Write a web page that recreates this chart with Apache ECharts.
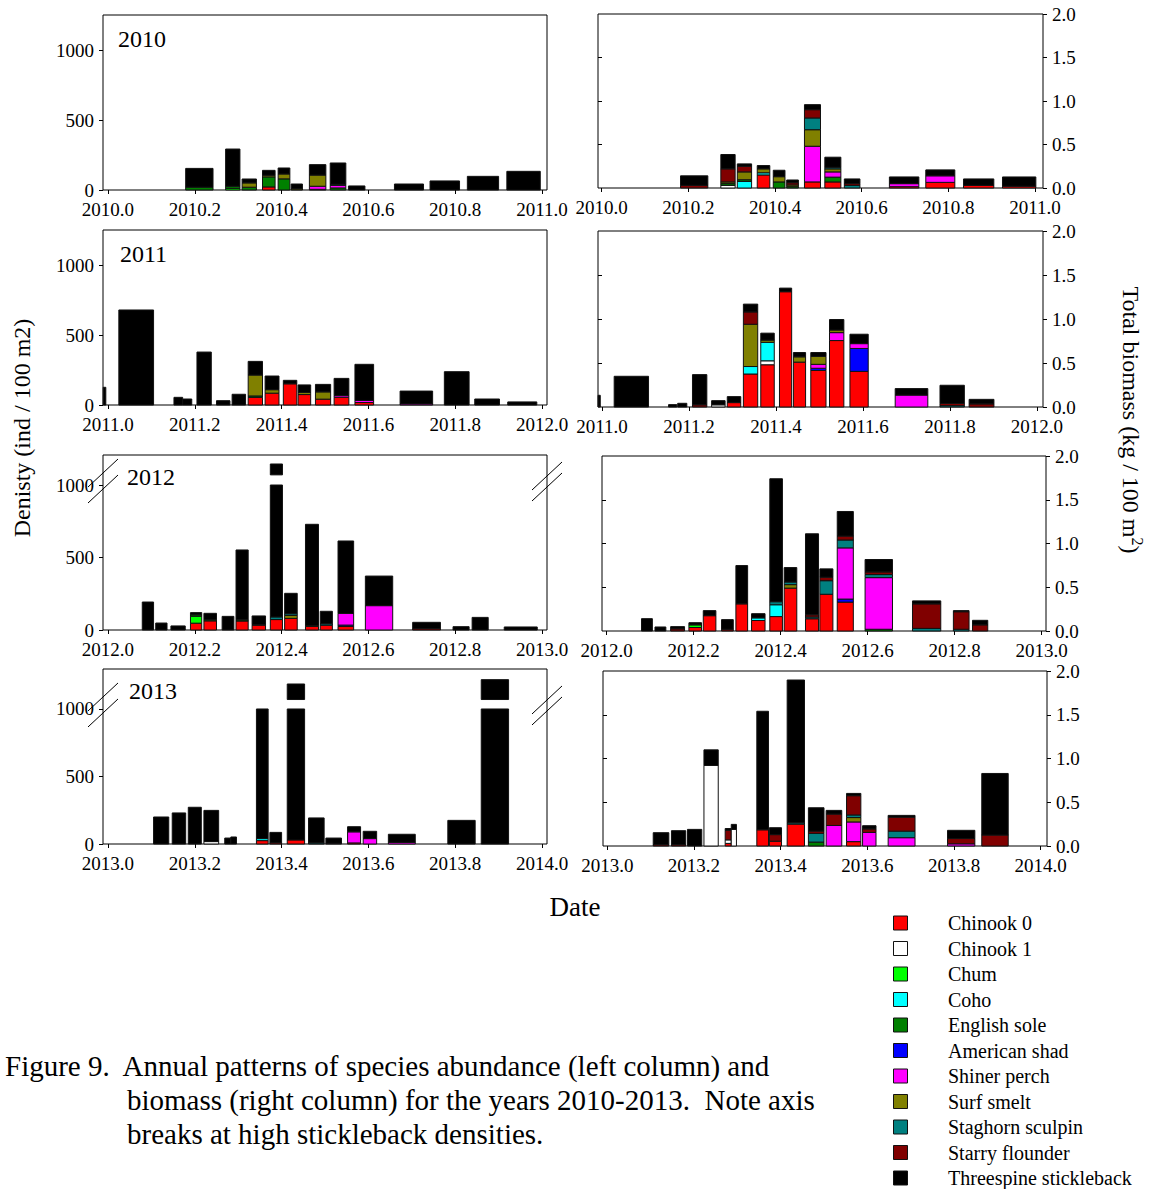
<!DOCTYPE html>
<html>
<head>
<meta charset="utf-8">
<script src="https://cdn.jsdelivr.net/npm/echarts@6/dist/echarts.min.js"></script>
<style>
html,body{margin:0;padding:0;background:#fff}
#chart{width:1156px;height:1189px}
</style>
</head>
<body>
<div id="chart"></div>
<script>
// ---------------- DATA ----------------
const SPECIES = ['Chinook 0','Chinook 1','Chum','Coho','English sole','American shad','Shiner perch','Surf smelt','Staghorn sculpin','Starry flounder','Threespine stickleback'];
const KEYS = ['c0','c1','chum','coho','eng','shad','shin','smelt','sculp','starry','stick'];
const YEARS = [2010, 2011, 2012, 2013];
const X_TICK_STEPS = [0, 0.2, 0.4, 0.6, 0.8, 1.0];
const DENSITY_TICKS = [0, 500, 1000];
const BIOMASS_TICKS = [0, 0.5, 1.0, 1.5, 2.0];
// density axis of 2012 and 2013 is broken: values between from and to are cut out
const DENSITY_BREAK = {from: 1000, to: 2000};

// each sample: [start date, end date, {species: value}]
const density2010 = [
  [2010.179, 2010.242, {eng:20, stick:135}],
  [2010.271, 2010.304, {chum:12, eng:15, stick:267}],
  [2010.309, 2010.342, {eng:20, smelt:31, stick:28}],
  [2010.356, 2010.385, {c0:22, eng:72, smelt:12, stick:35}],
  [2010.392, 2010.419, {eng:80, smelt:35, stick:43}],
  [2010.422, 2010.448, {smelt:8, stick:35}],
  [2010.464, 2010.502, {c0:5, shin:22, smelt:80, stick:75}],
  [2010.512, 2010.548, {eng:15, shin:18, sculp:8, stick:153}],
  [2010.554, 2010.592, {stick:29}],
  [2010.660, 2010.727, {stick:43}],
  [2010.742, 2010.810, {stick:65}],
  [2010.828, 2010.900, {stick:98}],
  [2010.919, 2010.996, {stick:134}]
];
const biomass2010 = [
  [2010.182, 2010.245, {starry:0.03, stick:0.11}],
  [2010.275, 2010.308, {c1:0.03, eng:0.02, smelt:0.02, starry:0.15, stick:0.165}],
  [2010.313, 2010.346, {coho:0.075, eng:0.02, smelt:0.09, starry:0.065, stick:0.027}],
  [2010.359, 2010.388, {c0:0.15, coho:0.025, smelt:0.045, stick:0.038}],
  [2010.396, 2010.423, {eng:0.07, smelt:0.06, stick:0.074}],
  [2010.427, 2010.454, {eng:0.015, smelt:0.02, starry:0.025, stick:0.032}],
  [2010.468, 2010.505, {c0:0.07, shin:0.41, smelt:0.19, sculp:0.135, starry:0.095, stick:0.058}],
  [2010.515, 2010.552, {c0:0.07, eng:0.055, shin:0.06, smelt:0.035, sculp:0.018, stick:0.116}],
  [2010.560, 2010.596, {sculp:0.03, starry:0.02, stick:0.054}],
  [2010.664, 2010.732, {c0:0.015, shin:0.035, stick:0.077}],
  [2010.748, 2010.815, {c0:0.065, shin:0.075, stick:0.068}],
  [2010.835, 2010.905, {c0:0.03, stick:0.074}],
  [2010.925, 2011.002, {c0:0.02, stick:0.107}]
];
const density2011 = [
  [2010.989, 2010.995, {stick:127}],
  [2011.025, 2011.105, {stick:682}],
  [2011.152, 2011.172, {stick:55}],
  [2011.172, 2011.193, {stick:43}],
  [2011.205, 2011.238, {stick:380}],
  [2011.250, 2011.281, {stick:31}],
  [2011.286, 2011.317, {stick:77}],
  [2011.323, 2011.356, {c0:55, eng:10, smelt:150, stick:98}],
  [2011.362, 2011.394, {c0:85, smelt:25, stick:98}],
  [2011.404, 2011.435, {c0:152, stick:25}],
  [2011.438, 2011.467, {c0:75, smelt:15, stick:54}],
  [2011.478, 2011.513, {c0:42, smelt:52, stick:54}],
  [2011.521, 2011.555, {c0:55, shin:12, stick:124}],
  [2011.569, 2011.612, {c0:18, shin:15, stick:259}],
  [2011.673, 2011.748, {shin:8, stick:92}],
  [2011.775, 2011.832, {stick:239}],
  [2011.845, 2011.902, {stick:43}],
  [2011.921, 2011.988, {stick:22}]
];
const biomass2011 = [
  [2010.991, 2010.996, {starry:0.01, stick:0.123}],
  [2011.028, 2011.107, {stick:0.349}],
  [2011.153, 2011.172, {stick:0.027}],
  [2011.174, 2011.195, {stick:0.042}],
  [2011.208, 2011.241, {starry:0.025, stick:0.343}],
  [2011.252, 2011.283, {c1:0.025, stick:0.047}],
  [2011.288, 2011.319, {c0:0.05, stick:0.068}],
  [2011.325, 2011.358, {c0:0.375, coho:0.085, smelt:0.48, starry:0.14, stick:0.089}],
  [2011.365, 2011.396, {c0:0.48, c1:0.045, coho:0.21, smelt:0.025, stick:0.079}],
  [2011.408, 2011.436, {c0:1.31, stick:0.041}],
  [2011.440, 2011.468, {c0:0.51, smelt:0.06, stick:0.049}],
  [2011.480, 2011.515, {c0:0.415, shad:0.025, shin:0.045, smelt:0.09, stick:0.044}],
  [2011.523, 2011.556, {c0:0.755, shin:0.09, smelt:0.03, stick:0.119}],
  [2011.570, 2011.612, {c0:0.405, shad:0.26, shin:0.055, stick:0.107}],
  [2011.674, 2011.749, {shin:0.135, stick:0.074}],
  [2011.777, 2011.833, {sculp:0.015, starry:0.025, stick:0.207}],
  [2011.844, 2011.901, {starry:0.035, stick:0.052}]
];
const density2012 = [
  [2012.079, 2012.105, {stick:193}],
  [2012.110, 2012.136, {stick:48}],
  [2012.145, 2012.178, {stick:28}],
  [2012.190, 2012.216, {c0:47, chum:48, eng:10, stick:15}],
  [2012.221, 2012.250, {c0:63, eng:8, stick:44}],
  [2012.263, 2012.290, {stick:94}],
  [2012.295, 2012.323, {c0:62, eng:8, stick:482}],
  [2012.332, 2012.363, {c0:33, starry:5, stick:59}],
  [2012.374, 2012.402, {c0:72, sculp:18, stick:1985}],
  [2012.407, 2012.436, {c0:80, smelt:20, sculp:12, stick:141}],
  [2012.455, 2012.485, {c0:25, smelt:5, stick:699}],
  [2012.489, 2012.517, {c0:33, sculp:10, stick:86}],
  [2012.530, 2012.566, {c0:24, shad:10, shin:80, stick:500}],
  [2012.593, 2012.656, {shin:168, stick:204}],
  [2012.702, 2012.766, {starry:10, stick:43}],
  [2012.795, 2012.832, {stick:23}],
  [2012.839, 2012.876, {stick:87}],
  [2012.913, 2012.989, {stick:21}]
];
const biomass2012 = [
  [2012.080, 2012.105, {stick:0.141}],
  [2012.111, 2012.136, {stick:0.046}],
  [2012.147, 2012.179, {starry:0.025, stick:0.025}],
  [2012.189, 2012.218, {c0:0.04, chum:0.03, stick:0.025}],
  [2012.222, 2012.251, {c0:0.175, stick:0.058}],
  [2012.264, 2012.291, {starry:0.02, stick:0.11}],
  [2012.297, 2012.324, {c0:0.31, stick:0.438}],
  [2012.333, 2012.364, {c0:0.12, coho:0.03, stick:0.048}],
  [2012.375, 2012.404, {c0:0.165, coho:0.135, sculp:0.035, stick:1.405}],
  [2012.408, 2012.437, {c0:0.49, smelt:0.04, sculp:0.03, stick:0.165}],
  [2012.457, 2012.487, {c0:0.14, sculp:0.02, starry:0.025, stick:0.926}],
  [2012.490, 2012.520, {c0:0.42, sculp:0.155, starry:0.04, stick:0.095}],
  [2012.530, 2012.567, {c0:0.33, shad:0.035, shin:0.585, sculp:0.09, starry:0.045, stick:0.281}],
  [2012.594, 2012.657, {eng:0.02, shin:0.59, sculp:0.035, starry:0.03, stick:0.142}],
  [2012.703, 2012.768, {sculp:0.03, starry:0.28, stick:0.034}],
  [2012.797, 2012.833, {sculp:0.02, starry:0.2, stick:0.013}],
  [2012.841, 2012.876, {starry:0.07, stick:0.052}]
];
const density2013 = [
  [2013.105, 2013.140, {stick:200}],
  [2013.148, 2013.179, {stick:230}],
  [2013.185, 2013.215, {stick:272}],
  [2013.221, 2013.255, {c1:18, stick:231}],
  [2013.269, 2013.283, {stick:44}],
  [2013.283, 2013.296, {stick:52}],
  [2013.342, 2013.369, {c0:25, coho:15, stick:960}],
  [2013.373, 2013.400, {c0:8, stick:78}],
  [2013.413, 2013.453, {c0:30, stick:2085}],
  [2013.462, 2013.498, {sculp:8, stick:185}],
  [2013.502, 2013.538, {shin:5, stick:39}],
  [2013.552, 2013.582, {c0:8, shin:82, stick:38}],
  [2013.588, 2013.619, {shin:40, stick:54}],
  [2013.646, 2013.708, {shin:12, stick:60}],
  [2013.783, 2013.846, {stick:175}],
  [2013.860, 2013.923, {stick:2147}]
];
const biomass2013 = [
  [2013.106, 2013.142, {starry:0.015, stick:0.137}],
  [2013.148, 2013.181, {starry:0.015, stick:0.16}],
  [2013.185, 2013.218, {stick:0.19}],
  [2013.223, 2013.256, {c1:0.92, stick:0.179}],
  [2013.272, 2013.286, {c0:0.03, c1:0.04, starry:0.11, stick:0.02}],
  [2013.286, 2013.298, {c1:0.19, stick:0.057}],
  [2013.345, 2013.372, {c0:0.185, stick:1.355}],
  [2013.374, 2013.402, {c0:0.055, starry:0.075, stick:0.079}],
  [2013.415, 2013.455, {c0:0.25, sculp:0.015, stick:1.632}],
  [2013.464, 2013.500, {eng:0.045, sculp:0.1, starry:0.025, stick:0.267}],
  [2013.505, 2013.541, {shin:0.235, starry:0.13, stick:0.042}],
  [2013.552, 2013.585, {c0:0.05, shin:0.225, smelt:0.05, sculp:0.03, starry:0.22, stick:0.026}],
  [2013.589, 2013.620, {shin:0.155, starry:0.04, stick:0.037}],
  [2013.648, 2013.710, {shin:0.095, sculp:0.075, starry:0.16, stick:0.02}],
  [2013.785, 2013.848, {shin:0.025, starry:0.06, stick:0.094}],
  [2013.864, 2013.925, {starry:0.125, stick:0.704}]
];

// ---------------- STYLE / LAYOUT ----------------
const COLORS = ['#ff0000','#ffffff','#00ff00','#00ffff','#008000','#0000ff','#ff00ff','#808000','#008080','#800000','#000000'];
const FONT = 'Liberation Serif';
const BREAK_GAP = 70; // visual gap (axis units) drawn at the break

const PANELS = [
  {kind:'d', year:2010, rows:density2010, grid:{left:103, top:15,  width:444, height:175}, pad:[0.0115,0.0115], yMax:1256, brk:false, lab:[118,39]},
  {kind:'b', year:2010, rows:biomass2010, grid:{left:598, top:14,  width:445, height:174}, pad:[0.0085,0.0185], yMax:2},
  {kind:'d', year:2011, rows:density2011, grid:{left:103, top:230, width:444, height:175}, pad:[0.0115,0.0115], yMax:1256, brk:false, lab:[120,254]},
  {kind:'b', year:2011, rows:biomass2011, grid:{left:598, top:231, width:445, height:176}, pad:[0.0092,0.0138], yMax:2},
  {kind:'d', year:2012, rows:density2012, grid:{left:103, top:455, width:444, height:175}, pad:[0.0115,0.0115], yMax:1207, brk:true, lab:[127,477]},
  {kind:'b', year:2012, rows:biomass2012, grid:{left:602, top:456, width:444, height:175}, pad:[0.0108,0.0099], yMax:2},
  {kind:'d', year:2013, rows:density2013, grid:{left:103, top:669, width:444, height:175}, pad:[0.0115,0.0115], yMax:1296, brk:true, lab:[129,691]},
  {kind:'b', year:2013, rows:biomass2013, grid:{left:603, top:671, width:444, height:175}, pad:[0.0099,0.0145], yMax:2}
];

function toAxis(v) {
  const b = DENSITY_BREAK;
  if (v <= b.from) return v;
  if (v >= b.to) return v - b.to + b.from + BREAK_GAP;
  return b.from + BREAK_GAP;
}
function segments(bot, top, brk) {
  if (!brk || top <= DENSITY_BREAK.from) return [[bot, top]];
  if (bot >= DENSITY_BREAK.to) return [[toAxis(bot), toAxis(top)]];
  const out = [];
  if (bot < DENSITY_BREAK.from) out.push([bot, DENSITY_BREAK.from]);
  if (top > DENSITY_BREAK.to) out.push([DENSITY_BREAK.from + BREAK_GAP, toAxis(top)]);
  return out;
}
function makeRender(brk) {
  return function (params, api) {
    const x0 = api.value(0), x1 = api.value(1);
    let cum = 0;
    const children = [];
    for (let k = 0; k < KEYS.length; k++) {
      const v = api.value(2 + k);
      if (!v) continue;
      const b = cum, t = cum + v;
      cum = t;
      segments(b, t, brk).forEach(function (s) {
        const p0 = api.coord([x0, s[0]]);
        const p1 = api.coord([x1, s[1]]);
        children.push({
          type: 'rect',
          shape: {x: p0[0], y: p1[1], width: p1[0] - p0[0], height: p0[1] - p1[1]},
          style: {fill: COLORS[k], stroke: '#111', lineWidth: 1}
        });
      });
    }
    return {type: 'group', children: children};
  };
}

const grids = [], xAxes = [], yAxes = [], series = [], graphics = [];
const axisTextStyle = {color: '#000', fontFamily: FONT, fontSize: 19};

PANELS.forEach(function (p, i) {
  grids.push(Object.assign({show: true, borderColor: '#000', borderWidth: 1, backgroundColor: 'transparent', containLabel: false, outerBoundsMode: 'none'}, p.grid));
  const xt = X_TICK_STEPS.map(function (s) { return Math.round((p.year + s) * 10) / 10; });
  xAxes.push({
    type: 'value', gridIndex: i, min: p.year - p.pad[0], max: p.year + 1 + p.pad[1],
    axisLine: {show: false}, splitLine: {show: false},
    axisTick: {show: true, customValues: xt, length: 4, lineStyle: {color: '#000'}},
    axisLabel: Object.assign({customValues: xt, margin: 10, formatter: function (v) { return v.toFixed(1); }}, axisTextStyle)
  });
  const yi = yAxes.length;
  if (p.kind === 'd') {
    yAxes.push({
      type: 'value', gridIndex: i, min: 0, max: p.yMax, position: 'left',
      axisLine: {show: false}, splitLine: {show: false},
      axisTick: {show: true, customValues: DENSITY_TICKS, length: 4, lineStyle: {color: '#000'}},
      axisLabel: Object.assign({customValues: DENSITY_TICKS, margin: 9, formatter: function (v) { return String(Math.round(v)); }}, axisTextStyle)
    });
  } else {
    yAxes.push({
      type: 'value', gridIndex: i, min: 0, max: p.yMax, position: 'right',
      axisLine: {show: false}, splitLine: {show: false},
      axisTick: {show: true, customValues: BIOMASS_TICKS, length: 4, lineStyle: {color: '#000'}},
      axisLabel: Object.assign({customValues: BIOMASS_TICKS, margin: 9, formatter: function (v) { return v.toFixed(1); }}, axisTextStyle)
    });
    yAxes.push({
      type: 'value', gridIndex: i, min: 0, max: p.yMax, position: 'left',
      axisLine: {show: false}, splitLine: {show: false},
      axisTick: {show: true, inside: true, customValues: BIOMASS_TICKS.slice(1, 4), length: 4, lineStyle: {color: '#000'}},
      axisLabel: {show: false}
    });
  }
  series.push({
    type: 'custom', xAxisIndex: i, yAxisIndex: yi,
    name: (p.kind === 'd' ? 'density ' : 'biomass ') + p.year,
    renderItem: makeRender(!!p.brk),
    encode: {x: [0, 1], y: [2]},
    data: p.rows.map(function (r) { return [r[0], r[1]].concat(KEYS.map(function (k) { return r[2][k] || 0; })); }),
    silent: true, animation: false
  });
  if (p.lab) {
    graphics.push({type: 'text', x: p.lab[0], y: p.lab[1], style: {text: String(p.year), fill: '#000', fontFamily: FONT, fontSize: 24, align: 'left', verticalAlign: 'middle', textAlign: 'left', textVerticalAlign: 'middle'}});
  }
  if (p.brk) {
    const y1000 = p.grid.top + p.grid.height * (1 - DENSITY_BREAK.from / p.yMax);
    [p.grid.left, p.grid.left + p.grid.width].forEach(function (xe, side) {
      const offs = side === 0 ? [-12, 4] : [-9, 2];
      offs.forEach(function (o) {
        const yc = y1000 + o;
        graphics.push({type: 'line', shape: {x1: xe - 15, y1: yc + 14, x2: xe + 15, y2: yc - 14}, style: {stroke: '#000', lineWidth: 1}});
      });
    });
  }
});

// axis titles and caption
graphics.push({type: 'text', x: 22, y: 428, rotation: Math.PI / 2, style: {text: 'Denisty (ind / 100 m2)', fill: '#000', fontFamily: FONT, fontSize: 24, align: 'center', verticalAlign: 'middle', textAlign: 'center', textVerticalAlign: 'middle'}});
graphics.push({type: 'text', x: 1131, y: 420, rotation: -Math.PI / 2, style: {text: 'Total biomass (kg / 100 m{s|2})', rich: {s: {fontSize: 16, fontFamily: FONT, fill: '#000', padding: [0, 0, 12, 0]}}, fill: '#000', fontFamily: FONT, fontSize: 24, align: 'center', verticalAlign: 'middle', textAlign: 'center', textVerticalAlign: 'middle'}});
graphics.push({type: 'text', x: 575, y: 907, style: {text: 'Date', fill: '#000', fontFamily: FONT, fontSize: 27, align: 'center', verticalAlign: 'middle', textAlign: 'center', textVerticalAlign: 'middle'}});

const CAPTION = [
  [5, 1066, 'Figure 9.\u00a0 Annual patterns of species abundance (left column) and'],
  [127, 1100, 'biomass (right column) for the years 2010-2013.\u00a0 Note axis'],
  [127, 1134, 'breaks at high stickleback densities.']
];
CAPTION.forEach(function (c) {
  graphics.push({type: 'text', x: c[0], y: c[1], style: {text: c[2], fill: '#000', fontFamily: FONT, fontSize: 29, align: 'left', verticalAlign: 'middle', textAlign: 'left', textVerticalAlign: 'middle'}});
});

// legend
SPECIES.forEach(function (name, k) {
  const yc = 923 + k * 25.5;
  graphics.push({type: 'rect', shape: {x: 893.5, y: yc - 7, width: 14, height: 14}, style: {fill: COLORS[k], stroke: '#111', lineWidth: 1}});
  graphics.push({type: 'text', x: 948, y: yc, style: {text: name, fill: '#000', fontFamily: FONT, fontSize: 20, align: 'left', verticalAlign: 'middle', textAlign: 'left', textVerticalAlign: 'middle'}});
});

const chart = echarts.init(document.getElementById('chart'), null, {renderer: 'svg', width: 1156, height: 1189});
chart.setOption({
  animation: false,
  backgroundColor: '#fff',
  grid: grids,
  xAxis: xAxes,
  yAxis: yAxes,
  series: series,
  graphic: graphics
});
</script>
</body>
</html>
